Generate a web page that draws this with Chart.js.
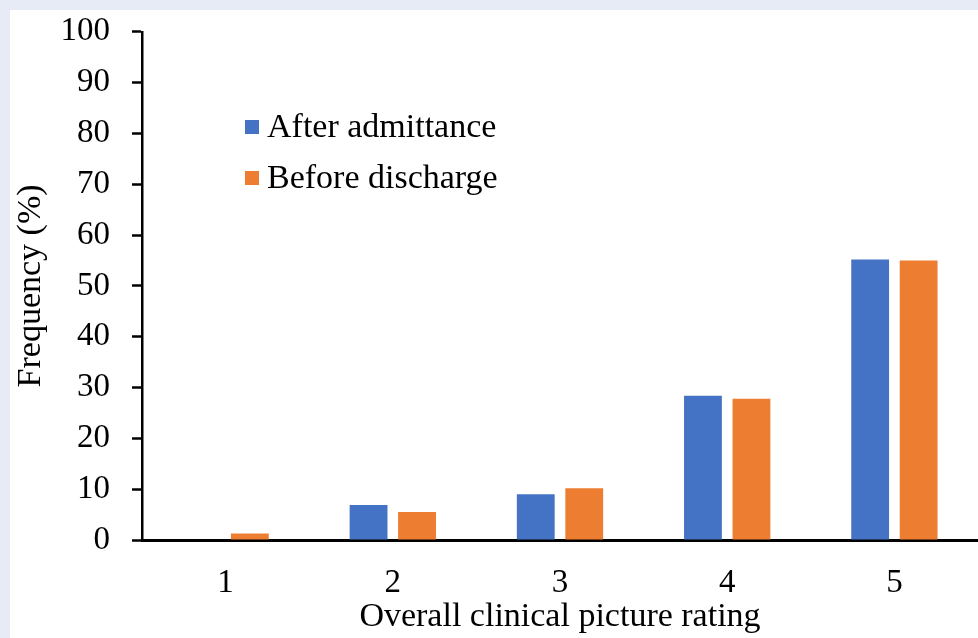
<!DOCTYPE html>
<html>
<head>
<meta charset="utf-8">
<script src="https://cdn.jsdelivr.net/npm/chart.js@4/dist/chart.umd.min.js"></script>
<style>
  html, body { margin: 0; padding: 0; width: 978px; height: 638px; overflow: hidden; background: #e7ebf6; }
  #panel { position: absolute; left: 10px; top: 10px; width: 968px; height: 628px; background: #ffffff; }
  canvas { display: block; position: absolute; left: 0; top: -20px; }
</style>
</head>
<body>
<div id="panel"><canvas id="chart" width="968" height="648"></canvas></div>
<script>
// Rating categories and frequency (%) for each survey moment
const ratings = ['1', '2', '3', '4', '5'];
const afterAdmittance = [0, 6.9, 9.0, 28.4, 55.2];
const beforeDischarge = [1.3, 5.5, 10.2, 27.8, 55.0];
const seriesNames = ['After admittance', 'Before discharge'];
const yTicks = [0, 10, 20, 30, 40, 50, 60, 70, 80, 90, 100];

const BLUE = '#4472c4';
const ORANGE = '#ed7d31';
const SERIF = '"Liberation Serif", "Times New Roman", serif';

// Legend drawn inside the plot area as two stacked rows
const insideLegend = {
  id: 'insideLegend',
  afterDraw(chart) {
    const ctx = chart.ctx;
    ctx.save();
    ctx.font = '34px ' + SERIF;
    ctx.textBaseline = 'middle';
    ctx.textAlign = 'left';
    chart.data.datasets.forEach((ds, i) => {
      const cy = 137 + i * 51;
      ctx.fillStyle = ds.backgroundColor;
      ctx.fillRect(235, cy - 7, 14, 14);
      ctx.fillStyle = '#000';
      ctx.fillText(ds.label, 257, cy + 1);
    });
    ctx.restore();
  }
};

new Chart(document.getElementById('chart'), {
  type: 'bar',
  data: {
    labels: ratings,
    datasets: [
      { label: seriesNames[0], data: afterAdmittance, backgroundColor: BLUE, borderWidth: 0 },
      { label: seriesNames[1], data: beforeDischarge, backgroundColor: ORANGE, borderWidth: 0 }
    ]
  },
  options: {
    responsive: false,
    animation: false,
    categoryPercentage: 0.58,
    barPercentage: 0.78,
    layout: { padding: { left: 0, right: 0, top: 0, bottom: 0 } },
    plugins: {
      legend: { display: false },
      tooltip: { enabled: false }
    },
    scales: {
      x: {
        grid: { display: false, drawTicks: false },
        border: { display: true, color: '#000', width: 3 },
        ticks: { color: '#000', padding: 24, font: { family: SERIF, size: 33 } },
        title: {
          display: true,
          text: 'Overall clinical picture rating',
          color: '#000',
          font: { family: SERIF, size: 34, lineHeight: 1.2 },
          padding: { top: 0, bottom: 1 }
        },
        afterFit(scale) { scale.height = 98; }
      },
      y: {
        min: 0,
        max: 100,
        afterBuildTicks(scale) { scale.ticks = yTicks.map(v => ({ value: v })); },
        grid: { drawOnChartArea: false, drawTicks: true, tickLength: 10, tickWidth: 2.5, tickColor: '#000' },
        border: { display: true, color: '#000', width: 2.5 },
        ticks: { color: '#000', padding: 22, font: { family: SERIF, size: 33 } },
        title: {
          display: true,
          text: 'Frequency (%)',
          color: '#000',
          font: { family: SERIF, size: 34, lineHeight: 1.2 },
          padding: { top: 1, bottom: 0 }
        },
        afterFit(scale) { scale.width = 132; }
      }
    }
  },
  plugins: [insideLegend]
});
</script>
</body>
</html>
